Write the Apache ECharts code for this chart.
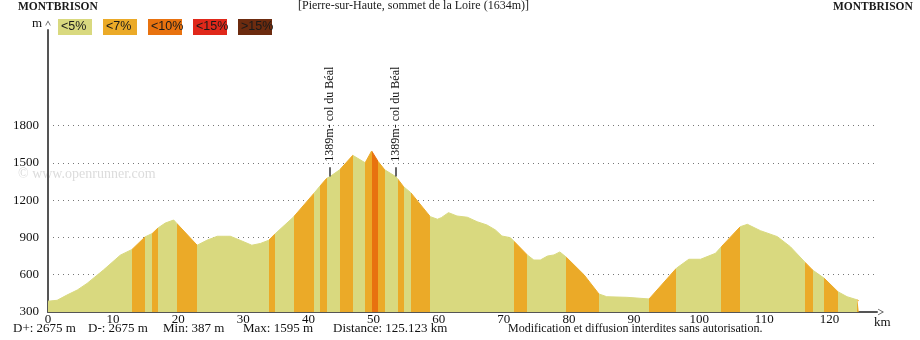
<!DOCTYPE html>
<html>
<head>
<meta charset="utf-8">
<script src="https://cdn.jsdelivr.net/npm/echarts@6/dist/echarts.min.js"></script>
<style>
  html, body { margin: 0; padding: 0; background: #fff; }
  #chart { width: 920px; height: 340px; }
</style>
</head>
<body>
<div id="chart"></div>
<script>
// Elevation profile: distance along the route (km) and altitude (m)
const distKm = [
  0, 1.4, 2.9, 4.5, 6.0, 8.5, 11.1, 12.9, 14.9, 16.0, 16.9, 18.0, 19.3, 19.8,
  22.9, 24.4, 26.0, 28.0, 29.5, 31.3, 32.6, 33.9, 34.8, 37.7, 40.8, 41.8, 42.8,
  43.3, 44.8, 46.8, 48.7, 49.7, 50.7, 51.7, 53.4, 53.7, 54.6, 55.7, 58.7, 59.8,
  60.4, 61.5, 62.8, 64.4, 65.9, 67.4, 68.7, 69.7, 71.0, 71.6, 73.6, 74.6, 75.6,
  76.7, 77.7, 78.6, 79.6, 82.3, 84.6, 85.8, 88.9, 92.3, 96.5, 98.4, 100.2, 102.5,
  103.4, 106.3, 107.4, 109.4, 112.0, 114.0, 116.3, 117.4, 119.2, 121.3, 122.7,
  124.3, 124.5
];
const elevM = [
  387, 394, 436, 477, 530, 637, 757, 803, 904, 931, 976, 1015, 1040, 1011,
  837, 877, 909, 909, 877, 837, 851, 877, 925, 1064, 1252, 1315, 1375,
  1389, 1444, 1560, 1500, 1595, 1510, 1444, 1389, 1370, 1308, 1260, 1067, 1046,
  1059, 1099, 1072, 1062, 1026, 1000, 960, 911, 898, 866, 759, 718, 718,
  750, 759, 783, 740, 600, 445, 423, 418, 405, 652, 724, 724, 772,
  825, 986, 1005, 954, 906, 825, 697, 638, 571, 463, 423,
  397, 390
];
// Stretches steeper than 5%: [start km, end km, grade class]
const steepBands = [
  [12.9, 14.9, 1], [16.0, 16.9, 1], [19.8, 22.9, 1], [33.9, 34.8, 1],
  [37.7, 40.8, 1], [41.8, 42.8, 1], [44.8, 46.8, 1], [48.7, 49.7, 1],
  [49.7, 50.7, 2], [50.7, 51.7, 1], [53.7, 54.6, 1], [55.7, 58.7, 1],
  [71.6, 73.6, 1], [79.6, 84.6, 1], [92.3, 96.5, 1], [103.4, 106.3, 1],
  [116.3, 117.4, 1], [119.2, 121.3, 1], [124.3, 124.5, 1]
];
const gradeLabels = ['<5%', '<7%', '<10%', '<15%', '>15%'];
const gradeColors = ['#d9d97f', '#ebaa28', '#e8720f', '#e0281a', '#6c2b0f'];

// Named passes
const passKm = [43.3, 53.4];
const passElev = [1389, 1389];
const passNames = ['1389m- col du Béal', '1389m- col du Béal'];

// Axis settings
const kmMax = 127.3, kmStep = 10;
const altMin = 300, altMax = 2568, altStep = 300, altGridTop = 1800;

// Texts around the chart
const startName = 'MONTBRISON', endName = 'MONTBRISON';
const summitText = '[Pierre-sur-Haute, sommet de la Loire (1634m)]';
const statTexts = ['D+: 2675 m', 'D-: 2675 m', 'Min: 387 m', 'Max: 1595 m', 'Distance: 125.123 km'];
const statX = [13, 88, 163, 243, 333];
const noticeText = 'Modification et diffusion interdites sans autorisation.';
const watermark = '\u00a9 www.openrunner.com';

const SERIF = '"Liberation Serif", "Times New Roman", serif';
const SANS = '"Liberation Sans", Arial, sans-serif';

// Colour pieces along the distance axis
const pieces = [];
let cur = 0;
steepBands.forEach(([a, b, c]) => {
  if (a > cur) pieces.push({ gte: cur, lt: a, color: gradeColors[0] });
  pieces.push({ gte: a, lt: b, color: gradeColors[c] });
  cur = b;
});
pieces.push({ gte: cur, lte: kmMax, color: gradeColors[0] });

const G = { left: 48, right: 43, top: 30, bottom: 28 };
const plotH = 340 - G.top - G.bottom;
const dotsTop = G.top + plotH * (altMax - altGridTop) / (altMax - altMin);

const chevron = 'path://M0,9 L5,0 L10,9 L8.6,9 L5,2.6 L1.4,9 Z';

const graphics = [];
graphics.push({ type: 'text', left: 18, top: 1, style: { text: startName, font: 'bold 11.5px ' + SERIF, fill: '#1a1a1a' } });
graphics.push({ type: 'text', left: 833, top: 1, style: { text: endName, font: 'bold 11.5px ' + SERIF, fill: '#1a1a1a' } });
graphics.push({ type: 'text', left: 298, top: 0, style: { text: summitText, font: '12px ' + SERIF, fill: '#1a1a1a' } });
gradeLabels.forEach((lab, i) => {
  graphics.push({ type: 'rect', shape: { x: 58 + 45 * i, y: 19, width: 34, height: 16 }, style: { fill: gradeColors[i] } });
  graphics.push({ type: 'text', x: 61 + 45 * i, y: 27, style: { text: lab, font: '12.5px ' + SANS, fill: '#1a1a1a', verticalAlign: 'middle' } });
});
graphics.push({ type: 'text', x: 18, y: 174, style: { text: watermark, font: '14px ' + SERIF, fill: '#dcdcdc', verticalAlign: 'middle' } });
statTexts.forEach((t, i) => {
  graphics.push({ type: 'text', x: statX[i], y: 329, style: { text: t, font: '13px ' + SERIF, fill: '#111', verticalAlign: 'middle' } });
});
graphics.push({ type: 'text', x: 508, y: 329, style: { text: noticeText, font: '12px ' + SERIF, fill: '#111', verticalAlign: 'middle' } });

const chart = echarts.init(document.getElementById('chart'), null, { renderer: 'canvas' });
chart.setOption({
  animation: false,
  backgroundColor: '#fff',
  grid: [
    { left: G.left, right: G.right, top: G.top, bottom: G.bottom, outerBoundsMode: 'none' },
    { left: G.left, right: G.right, top: dotsTop, bottom: G.bottom, outerBoundsMode: 'none' }
  ],
  xAxis: [
    {
      gridIndex: 0, type: 'value', min: 0, max: kmMax, interval: kmStep,
      name: 'km', nameLocation: 'end', nameGap: -3,
      nameTextStyle: { fontFamily: SERIF, fontSize: 13, color: '#111', verticalAlign: 'top', padding: [4, 0, 0, 0] },
      axisLine: { show: true, lineStyle: { color: '#555', width: 2 }, symbol: ['none', chevron], symbolSize: [8, 6], symbolOffset: [0, 4] },
      axisTick: { show: false },
      axisLabel: { fontFamily: SERIF, fontSize: 13, color: '#111', margin: 1, showMaxLabel: false,
        formatter: v => (v % kmStep === 0 ? String(v) : '') },
      splitLine: { show: false }
    },
    { gridIndex: 1, type: 'value', min: 0, max: kmMax, interval: kmStep, show: false }
  ],
  yAxis: [
    {
      gridIndex: 0, type: 'value', min: altMin, max: altMax, interval: altStep,
      name: 'm', nameLocation: 'end', nameGap: 0,
      nameTextStyle: { fontFamily: SERIF, fontSize: 13, color: '#111', align: 'right', padding: [0, 6, 0, 0] },
      axisLine: { show: true, lineStyle: { color: '#555', width: 2 }, symbol: ['none', chevron], symbolSize: [7, 5], symbolOffset: [0, 7] },
      axisTick: { show: false },
      axisLabel: { fontFamily: SERIF, fontSize: 13, color: '#111', margin: 9, padding: [0, 0, 5, 0], showMaxLabel: false,
        formatter: v => (v <= altGridTop ? String(v) : '') },
      splitLine: { show: false }
    },
    {
      gridIndex: 1, type: 'value', min: altMin, max: altGridTop, interval: altStep,
      axisLine: { show: false }, axisTick: { show: false }, axisLabel: { show: false },
      splitLine: { show: true, showMinLine: false, lineStyle: { color: '#777', width: 1, type: [1, 4] } }
    }
  ],
  visualMap: {
    show: false, type: 'piecewise', seriesIndex: 0, dimension: 0,
    pieces: pieces, outOfRange: { color: gradeColors[0] }
  },
  series: [
    {
      type: 'line', xAxisIndex: 0, yAxisIndex: 0, z: 3,
      data: distKm.map((d, i) => [d, elevM[i]]),
      symbol: 'none', smooth: false,
      lineStyle: { width: 1 },
      areaStyle: { opacity: 1 },
      markLine: {
        silent: true, symbol: 'none', animation: false,
        lineStyle: { color: '#333', width: 1.5, type: 'solid' },
        label: { show: false },
        data: passKm.map((k, i) => [{ coord: [k, passElev[i]] }, { coord: [k, passElev[i] + 75] }])
      },
      markPoint: {
        silent: true, symbol: 'rect', symbolSize: 0, animation: false,
        data: passKm.map((k, i) => ({
          coord: [k, passElev[i] + 120],
          label: {
            show: true, formatter: passNames[i], rotate: 90, position: 'inside',
            align: 'left', verticalAlign: 'middle',
            fontFamily: SERIF, fontSize: 12, color: '#111'
          }
        }))
      }
    }
  ],
  graphic: graphics
});
</script>
</body>
</html>
